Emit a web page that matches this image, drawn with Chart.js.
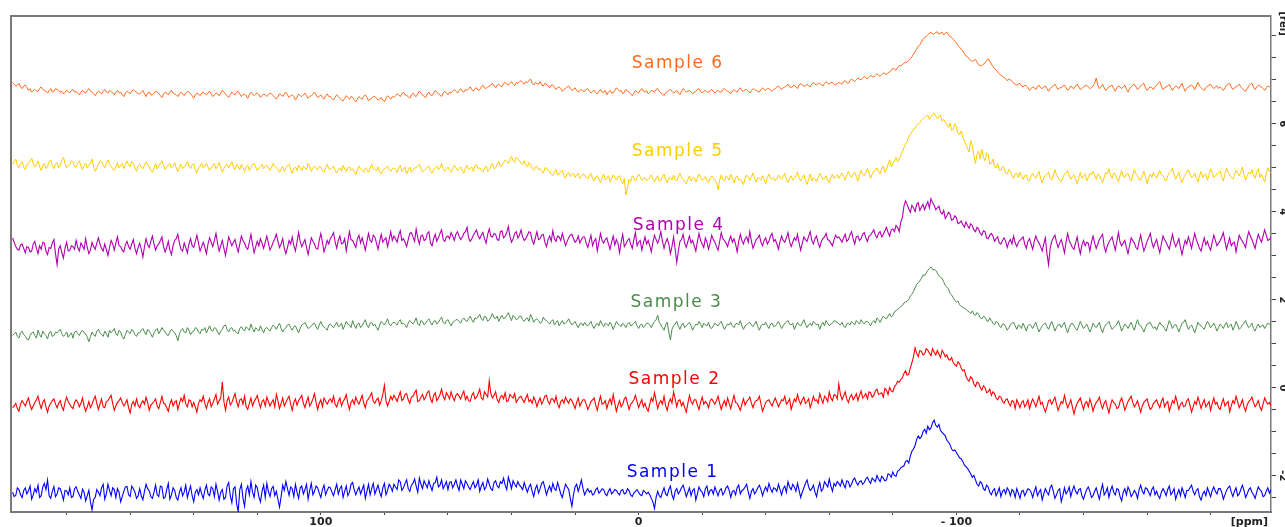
<!DOCTYPE html>
<html>
<head>
<meta charset="utf-8">
<title>Stacked spectra</title>
<script src="https://cdn.jsdelivr.net/npm/chart.js@4.4.1/dist/chart.umd.min.js"></script>
<style>
  html, body { margin: 0; padding: 0; background: #fff; }
  #spectra { display: block; }
</style>
</head>
<body>
<canvas id="spectra" width="1285" height="527"></canvas>
<script>
// sampling grid of the traces: 197 ppm down to -199 ppm, 0.5 ppm apart
const ppmStart = 197;
const ppmStep = 0.5;

const sampleNames = ['Sample 1', 'Sample 2', 'Sample 3', 'Sample 4', 'Sample 5', 'Sample 6'];
const sampleColors = ['#0000ff', '#ff0000', '#4a8c4a', '#b000b0', '#ffcc00', '#ff6a1a'];
// vertical stacking of each trace (rel units)
const stackOffsets = [-2.39, -0.39, 1.39, 3.25, 4.80, 6.82];
// where the sample names sit (ppm, rel)
const labelPpm = [-10.7, -11.3, -11.9, -12.6, -12.3, -12.3];
const labelLevels = [-1.93, 0.19, 1.94, 3.69, 5.37, 7.37];

const ppmTickValues = [180, 160, 140, 120, 100, 80, 60, 40, 20, 0, -20, -40, -60, -80, -100, -120, -140, -160, -180];
const ppmLabelValues = [100, 0, -100];
const ppmLabelTexts = ['100', '0', '- 100'];
const relTickValues = [-2.5, -2, -1.5, -1, -0.5, 0, 0.5, 1, 1.5, 2, 2.5, 3, 3.5, 4, 4.5, 5, 5.5, 6, 6.5, 7, 7.5, 8];
const relLabelValues = [-2, 0, 2, 4, 6, 8];
const relLabelTexts = ['-2', '0', '2', '4', '6', '[rel]'];

// intensities in 1/100 rel, relative to each trace's own baseline; one row = 20 ppm
const sample1 = [
  2,-8,-5,12,8,-4,-10,6,12,-2,5,16,-14,-4,10,2,18,-10,-6,14,22,8,30,-6,-12,4,15,-8,-2,12,10,-2,-16,6,5,-4,12,-10,-8,10,
  14,4,-4,-12,9,2,-18,-6,6,-20,-38,-14,-10,8,2,-6,12,20,-14,-2,20,6,-6,12,8,-10,10,2,-20,-8,4,14,15,-4,-8,16,10,2,-12,-6,
  10,-6,-15,4,20,10,5,-8,-12,2,18,-4,-8,16,14,-12,-10,8,22,-14,-4,12,6,-10,-16,2,12,-6,2,18,-10,4,16,-6,-20,2,8,-4,12,-2,
  -12,6,18,-2,-6,14,10,-8,20,4,-16,2,8,-14,-10,16,24,-6,-22,10,14,-24,-42,8,20,-12,-30,6,16,-4,26,2,-10,18,12,-8,-20,4,18,-10,
  22,4,-8,10,15,-6,4,-14,-32,-8,18,6,26,10,-5,14,10,-8,20,2,-12,12,16,-2,8,20,-14,6,22,-4,4,16,12,0,-10,8,18,-4,6,14,
  12,2,-6,8,20,-2,10,16,-10,4,16,-6,2,20,24,8,-4,6,14,-2,8,18,-12,4,20,-4,10,22,-2,8,18,2,-8,12,22,-4,6,20,14,4,
  20,14,8,30,26,6,12,22,30,10,4,18,22,32,16,2,34,20,10,28,20,12,28,16,6,22,24,36,14,18,30,10,18,26,8,24,26,12,20,30,
  16,6,30,20,10,28,22,14,8,18,26,12,18,30,4,16,24,8,14,32,20,10,6,24,28,16,12,26,22,34,18,8,36,24,10,28,20,14,26,18,
  14,8,24,12,2,14,20,4,-8,10,18,0,10,22,26,12,-4,8,16,4,22,10,6,24,12,-2,-10,6,20,14,8,-12,-30,-4,14,20,4,16,30,10,
  -4,4,10,2,6,-4,-2,8,12,0,4,10,8,-2,-6,4,10,-2,2,8,6,0,-4,6,8,-2,0,10,5,-4,-8,0,4,8,2,-4,-6,6,3,-2,
  2,-4,-12,-20,-35,-10,4,-6,-10,2,12,-2,-6,8,16,-4,-14,4,10,-2,4,12,18,6,-8,2,12,-6,6,10,-16,-2,14,6,2,-8,10,16,-4,6,
  8,-2,14,4,-6,6,10,-4,2,12,16,6,-10,4,6,-4,12,18,-2,6,8,14,20,2,-12,4,10,-2,4,12,18,8,-6,6,14,4,22,10,2,12,
  10,4,20,8,-4,10,16,2,26,14,8,20,14,4,22,6,-10,2,12,22,30,14,6,10,18,2,-8,12,24,4,10,26,20,14,32,16,4,22,16,26,
  22,16,30,20,12,28,26,14,20,30,34,24,18,26,28,20,24,32,36,28,22,34,30,26,40,32,26,38,34,28,30,44,42,36,48,40,38,50,52,58,
  60,62,72,74,68,84,95,100,108,122,130,124,128,140,145,136,152,144,148,160,166,154,150,156,142,138,134,130,120,116,110,100,96,98,92,86,80,78,72,64,
  60,56,50,44,36,40,30,20,16,26,22,10,6,18,14,2,-4,6,10,-6,2,12,-8,4,8,-2,12,6,-6,8,4,-10,10,0,-12,4,6,-6,2,10,
  8,2,-10,4,14,-6,2,8,-16,-2,10,2,-4,12,18,4,-12,-4,6,10,-20,-6,12,-2,4,14,-8,6,16,4,-2,8,10,-6,-14,-2,8,14,4,-10,
  -6,4,12,-2,-14,6,20,-4,2,12,-10,6,16,2,-4,10,8,-8,-18,2,10,-4,14,6,-8,-2,6,0,-12,8,18,4,-2,12,10,2,-6,8,14,-4,
  4,-6,-12,2,10,4,-6,8,16,-4,2,10,-14,-2,8,-6,12,2,-10,6,6,12,18,4,-4,6,10,-8,-16,-2,4,-6,12,2,-8,6,14,4,-2,10,
  10,2,-14,-4,6,12,16,2,-8,4,12,-6,-2,8,18,6,-10,-2,8,12,2,-4,-12,2,14,8,4,-8,-6,4,12,0,8
];
const sample2 = [
  -6,-2,4,-8,-14,2,10,4,-2,8,16,0,-10,-2,6,12,20,4,-8,6,12,-4,-16,-2,4,10,14,2,-6,4,10,-4,-12,6,18,8,2,-4,-8,6,
  12,6,-4,4,16,-2,-14,-4,8,-6,2,12,20,4,-10,2,14,-4,-6,8,10,16,22,4,-12,-2,6,10,16,6,-2,4,12,-6,-18,2,8,-2,14,0,
  -6,4,10,2,18,6,-12,0,4,8,14,-2,-8,6,20,4,2,-6,-14,2,12,-2,6,10,-10,4,16,8,22,2,-4,12,10,-4,6,-4,-16,4,12,8,
  20,4,-8,6,14,-4,4,14,24,2,10,16,52,8,-12,10,18,0,6,16,26,8,-4,12,14,2,20,-4,-10,4,16,-2,8,14,22,6,-6,8,12,-2,
  18,8,-2,6,12,-4,24,10,-8,4,16,-2,6,14,20,2,-12,6,14,0,10,16,22,4,-6,8,18,-2,4,14,26,6,-10,4,12,-4,16,8,2,10,
  14,6,20,2,-4,8,16,-2,8,14,24,4,-10,6,12,2,18,8,2,12,22,4,-6,10,14,20,28,8,4,12,16,0,10,24,45,10,-2,8,20,12,
  22,16,8,20,30,10,14,24,26,12,4,18,20,28,34,8,10,18,24,12,18,28,32,14,6,22,28,10,16,24,36,20,12,28,22,14,30,18,10,22,
  26,20,14,24,32,12,20,10,8,22,28,14,18,26,36,16,12,30,24,18,55,26,16,22,30,12,6,18,22,14,28,8,10,24,20,16,26,6,12,18,
  20,12,6,16,24,8,12,4,18,10,-4,8,16,2,10,20,22,8,2,14,14,6,20,2,-6,8,12,4,18,10,4,14,10,2,-8,6,16,-2,6,12,
  12,2,-10,-2,8,12,16,0,-12,6,20,2,4,10,-8,6,14,2,24,4,-14,0,10,-4,2,14,18,4,-10,2,6,12,22,8,-6,4,12,-4,4,-8,
  -14,2,16,8,28,10,-8,4,10,2,20,-2,-12,6,14,4,30,14,-4,10,12,-2,6,-6,-16,4,22,8,2,12,12,0,-10,6,18,2,8,4,-6,10,
  14,8,2,10,20,4,-10,2,10,-2,16,4,-8,8,22,6,4,-4,-12,2,14,0,8,12,18,4,-6,6,10,12,20,2,-14,-4,6,10,12,4,-2,8,
  16,6,-4,4,12,10,20,2,6,14,-10,2,14,8,24,10,2,12,18,4,8,14,-6,6,20,10,12,4,26,14,4,20,16,8,30,16,10,24,22,14,
  48,24,12,20,30,14,6,18,24,12,18,26,10,22,32,16,20,26,14,30,28,18,22,32,36,24,26,28,18,38,34,24,40,32,30,42,46,54,52,58,
  62,72,78,68,70,84,96,110,130,118,110,124,122,114,116,128,125,118,112,128,120,114,124,116,108,124,118,110,114,104,102,108,96,92,88,98,94,84,78,80,
  66,58,54,64,60,48,42,52,50,40,34,44,40,28,30,36,22,30,26,16,12,20,18,8,4,12,14,4,-2,10,8,-8,12,4,-6,6,10,-4,2,12,
  -8,4,14,6,-4,8,20,2,6,-6,-16,-4,10,12,2,10,18,2,-12,-2,8,4,22,6,-6,2,12,-4,-20,-6,4,10,16,2,-10,4,8,-4,14,2,
  -14,-2,6,10,18,2,-8,4,10,-6,-18,0,12,6,2,-8,-6,8,16,4,-12,-2,8,14,20,6,-4,2,10,-4,-16,-2,6,10,14,0,-10,-6,4,8,
  12,2,-6,8,16,-4,4,8,-14,-2,10,4,20,6,-10,2,6,-4,-2,10,14,0,-16,-4,8,2,18,6,-8,4,12,-4,2,8,-12,4,16,2,6,-6,
  -10,4,14,-2,4,8,-16,-2,10,4,20,8,-6,2,12,-4,-14,0,8,12,18,6,-4,2,10,-4,-12,2,16,8,2,6,-2
];
const sample3 = [
  -20,-16,-12,-22,-26,-14,-10,-18,-22,-28,-30,-20,-14,-12,-20,-26,-8,-18,-24,-10,-16,-20,-28,-14,-10,-22,-20,-12,-14,-10,-6,-16,-22,-18,-12,-24,-18,-14,-26,-12,
  -10,-16,-20,-12,-8,-14,-16,-24,-34,-22,-12,-18,-22,-10,-6,-14,-18,-22,-10,-16,-24,-8,-14,-10,-4,-16,-20,-8,-12,-22,-28,-18,-8,-12,-16,-6,-10,-18,-22,-14,
  -14,-8,-4,-12,-18,-6,-10,-16,-24,-14,-8,-4,-16,-10,-2,-8,-12,-18,-20,-12,-6,-10,-14,-20,-32,-16,-8,-4,-12,-14,-2,-8,-18,-12,-10,-2,-4,-12,-16,-6,
  -8,-2,-14,-6,2,-8,-10,-2,-4,-12,-18,-10,-6,2,4,-6,-12,-4,-2,-10,-8,-14,-16,-4,0,-6,-10,0,-4,-8,6,-4,-12,-2,-6,-10,2,-6,-14,-4,
  -2,-6,-10,-2,4,0,-6,2,8,-4,-12,-6,-2,4,6,-2,-8,0,2,-6,-14,-4,4,6,10,2,-4,-2,2,6,8,0,-6,4,12,2,0,-4,-8,4,
  6,2,-2,4,10,0,2,8,-6,2,12,6,4,-2,14,4,-4,6,8,-2,2,10,16,4,-2,8,10,2,6,-2,-8,4,12,8,4,10,18,6,2,8,
  10,8,4,12,16,6,8,4,-2,8,14,10,6,12,20,6,2,14,12,4,8,14,18,10,4,12,14,6,10,16,22,10,6,14,16,8,2,10,12,16,
  16,12,8,16,20,14,12,18,24,16,10,20,18,22,28,18,14,24,22,12,16,22,30,20,18,24,12,20,26,18,20,26,32,22,14,26,22,16,18,24,
  24,16,12,18,20,12,28,20,10,16,18,14,8,10,22,16,14,10,6,12,16,4,10,14,2,8,14,6,8,12,18,10,4,8,12,4,-2,6,8,2,
  10,4,2,6,12,2,-4,4,8,2,14,6,0,8,6,2,10,4,-6,2,12,6,4,0,8,4,-2,6,10,2,4,8,12,2,-4,4,6,-2,2,8,
  8,4,-2,6,12,16,26,10,4,-2,-8,4,10,-12,-30,-6,2,6,12,2,-6,4,8,-2,2,6,10,2,-8,0,6,4,12,6,-2,8,4,2,10,-2,
  -4,2,8,4,2,8,12,2,-6,0,6,4,10,2,-2,6,8,4,14,2,-6,2,4,8,10,4,0,6,12,0,-8,2,6,4,10,2,-4,6,8,0,
  2,6,12,4,-4,2,8,10,14,6,4,8,-6,2,10,4,2,8,16,6,-2,4,8,2,12,8,4,6,-6,4,10,2,14,8,2,6,8,14,12,10,
  6,4,10,2,-2,6,8,4,12,8,4,14,10,6,16,10,6,12,12,8,2,10,14,8,20,16,10,18,24,20,18,24,30,22,26,34,36,40,42,46,
  48,54,56,58,62,70,74,80,88,96,100,104,110,118,116,122,128,132,136,130,130,128,122,116,112,110,102,94,90,86,76,72,66,60,56,58,50,46,44,42,
  40,36,34,30,36,28,26,32,28,20,18,24,22,14,12,20,14,8,4,12,10,2,-2,6,6,0,-8,-2,4,8,10,2,-6,4,2,-4,8,0,-10,2,
  6,2,-4,4,10,-2,-12,-4,2,6,8,0,-6,4,12,2,-10,-2,4,6,-2,4,10,-4,-14,-2,6,8,2,-4,-8,2,12,4,-4,0,6,-2,-12,-4,
  8,2,-2,4,10,-4,-14,-2,4,8,12,2,-6,-2,2,6,14,2,-10,-2,6,2,-4,4,10,0,-8,6,16,4,2,-4,-12,-2,6,8,10,2,-4,0,
  -8,2,10,4,2,-4,-10,2,14,6,-4,2,6,-2,-12,-2,8,10,16,4,-6,0,4,-4,-14,-2,10,4,2,-2,-6,4,12,6,-2,2,8,0,-10,-2,
  6,2,-4,4,10,-2,2,6,-8,0,12,4,-6,-2,4,8,14,4,-2,2,8,-4,-10,0,6,-2,2,4,-4,2,8,6,4
];
const sample4 = [
  16,6,-4,-10,-12,0,2,-8,-18,-4,-6,-16,-14,2,8,-8,-20,-2,-10,6,4,-14,-22,-6,-8,4,12,-20,-45,-10,-2,-18,-30,-8,6,-14,-12,-2,-4,-10,
  10,-6,-14,4,-2,-10,14,-6,-20,-12,6,-4,-10,4,16,2,-8,-14,2,-10,-24,-6,10,2,-12,4,18,-2,-4,-12,-16,0,8,-4,-10,2,12,-8,-20,-6,
  4,-10,-28,-4,14,0,-6,8,20,2,-12,-2,2,10,18,-4,-16,-6,8,-12,-22,-2,10,14,24,4,-10,-14,4,-6,-18,2,14,-2,-6,8,22,4,-14,-4,
  6,-6,-20,2,16,6,-4,10,26,4,-14,-2,10,-8,-24,-4,18,8,-2,6,12,-4,-16,2,20,10,4,-6,-10,6,24,2,-18,-4,8,-2,14,4,-8,6,
  20,4,-12,-4,6,14,24,8,-6,2,14,-8,-20,-6,10,2,18,-2,-14,6,28,8,-4,4,12,-6,-22,-2,16,8,2,-8,-10,10,26,6,-16,-4,10,2,
  14,20,28,6,-8,10,20,2,4,14,-14,8,30,12,10,2,-6,14,22,4,16,2,-12,8,26,10,6,22,18,4,-10,8,24,6,12,16,-4,12,30,10,
  20,14,6,22,32,10,14,6,-4,12,26,28,18,8,36,16,2,20,22,10,12,26,30,4,-2,14,24,8,16,26,34,12,8,18,20,14,28,20,10,24,
  30,20,12,18,26,30,40,16,8,14,22,28,34,20,14,22,28,14,4,24,36,20,18,26,24,12,10,30,32,16,20,28,42,20,6,14,26,30,16,22,
  34,18,10,14,22,30,28,10,2,16,30,12,14,22,24,6,-4,12,20,8,32,14,8,20,18,10,26,12,-2,8,16,22,24,14,6,10,20,4,12,18,
  18,4,-6,8,22,-2,8,14,-14,6,26,10,4,12,16,2,-10,6,20,0,12,4,-18,6,24,-4,2,10,14,2,-8,12,28,-2,6,10,-12,4,18,2,
  10,-2,-16,6,22,12,4,14,30,8,-8,6,14,2,-20,-4,18,-10,-40,-14,8,12,24,4,-6,8,20,4,10,-2,-14,8,26,10,2,-6,16,6,-10,4,
  22,12,6,-4,-12,8,28,14,10,4,-4,10,20,6,14,2,-16,8,24,10,2,14,18,6,30,8,-8,2,12,16,22,6,-2,10,16,2,8,20,26,8,
  12,2,-10,8,20,10,6,16,28,8,-4,6,16,10,24,4,-12,4,18,12,8,20,30,10,2,14,20,4,-6,8,14,18,26,12,10,4,-2,12,22,16,
  18,12,6,16,24,8,12,22,30,14,2,18,20,10,14,24,28,16,8,20,22,28,34,22,16,26,30,18,24,32,40,28,20,34,36,30,44,40,30,52,
  62,88,100,92,82,74,90,84,76,92,96,78,86,92,80,90,98,84,105,96,90,80,84,88,74,70,78,60,66,74,70,56,58,66,62,48,50,54,46,40,
  52,44,38,48,44,34,30,40,36,26,22,32,30,16,14,22,26,20,8,14,18,4,2,10,16,8,-6,6,12,2,20,4,-4,6,10,14,18,2,-8,8,
  14,2,-10,8,20,10,4,-4,-14,2,16,-20,-45,-8,8,16,22,6,-6,4,12,-2,-18,6,26,10,2,-6,-10,4,18,-4,-20,0,10,-2,6,4,-14,6,
  20,4,-8,2,12,18,24,-4,-16,-2,6,12,18,2,-12,8,28,6,-2,4,10,-6,-20,-2,16,10,4,-6,-10,8,22,2,-14,-4,8,16,26,6,-6,4,
  12,-4,-18,2,20,12,6,-2,-10,8,24,6,-4,4,14,-6,-22,-4,10,2,18,6,-8,10,26,12,2,-8,-14,2,16,0,8,-4,-12,6,22,10,-2,4,
  10,18,28,8,-10,4,16,-2,4,6,-16,4,22,14,8,2,-6,16,30,20,12,2,-8,10,24,14,6,20,34,22,10,12,18
];
const sample5 = [
  28,34,40,26,20,30,34,22,16,28,30,36,42,30,22,28,36,22,14,26,30,18,24,34,38,26,18,28,32,20,26,38,44,30,20,24,28,36,34,22,
  22,30,36,24,16,26,30,20,26,32,40,22,12,20,28,36,34,26,20,30,38,28,24,18,14,22,32,20,26,30,18,28,36,26,22,34,30,20,12,24,
  28,22,18,26,34,28,22,14,10,20,30,18,24,30,36,26,16,22,26,30,20,24,32,20,12,22,28,18,22,28,34,24,18,26,30,16,8,20,24,30,
  20,24,30,22,14,20,26,30,18,24,32,20,10,18,24,28,20,26,34,22,16,28,22,16,28,20,12,22,26,14,20,28,30,22,14,20,24,28,18,24,
  26,20,14,22,30,24,20,16,10,18,24,12,18,26,28,16,8,18,22,14,26,20,14,24,20,16,30,22,12,20,24,18,16,24,22,14,10,20,28,18,
  16,20,24,14,8,16,20,12,26,18,12,20,22,14,18,10,4,16,24,18,14,10,20,16,10,20,28,18,16,14,22,12,6,14,18,20,24,16,12,18,
  20,16,10,20,26,12,16,22,6,14,22,10,14,20,20,24,28,18,10,14,18,22,24,12,8,16,20,24,16,20,30,18,12,16,22,14,10,18,26,20,
  14,18,22,14,8,20,26,16,18,22,12,24,28,18,20,14,10,20,24,12,16,24,30,18,20,28,34,22,26,32,38,34,30,40,46,36,32,44,40,36,
  30,28,36,26,22,32,28,18,14,22,24,16,18,12,8,20,20,14,12,6,2,10,16,4,6,12,14,2,-4,6,10,0,4,8,-2,4,8,-4,0,6,
  4,-2,-6,4,8,-4,-10,0,2,-6,-14,-2,6,-8,-4,2,-12,-6,4,-2,-8,0,2,-10,-16,-4,-42,-26,-6,-12,2,-4,-10,-2,6,0,-8,-4,-2,-10,
  -6,-2,4,-6,-12,-4,2,-10,-8,0,6,-6,-14,-4,-2,-8,4,-6,-10,0,8,-2,-6,-12,-16,-6,2,-10,-4,-2,-12,-4,6,-2,-8,-6,0,-8,-14,-4,
  2,-4,-8,-14,-30,-8,4,-6,-10,2,-2,-8,6,-4,-14,-2,2,-8,-6,-10,-18,-4,4,-2,-8,0,8,-4,-12,-2,-4,-8,2,-6,-16,-2,6,-4,-6,-2,
  -10,-4,4,-2,-6,0,8,-6,-14,-4,2,-8,-4,2,10,-2,-10,-4,4,-8,-18,-6,6,-10,-2,-6,-12,-2,8,0,-6,-4,2,-8,-14,-2,6,-4,0,4,
  -4,2,8,0,-8,4,12,2,-2,6,10,0,-10,4,14,6,2,10,18,8,-4,6,12,14,20,12,6,18,24,10,16,28,38,22,30,36,44,34,40,48,
  56,66,74,80,90,96,102,108,110,116,120,122,128,132,134,138,140,130,136,142,145,138,132,136,140,126,130,124,118,112,122,104,108,120,114,98,96,104,90,80,
  74,64,56,82,70,48,30,52,58,40,62,44,36,54,50,28,30,40,22,20,30,14,14,24,20,8,6,16,12,2,-4,6,8,-2,10,0,-6,2,4,-8,
  -10,2,8,0,-4,4,12,-4,-14,-2,2,6,10,-4,-8,4,16,4,-2,-8,-12,-2,6,8,14,2,-6,0,4,-6,-16,-2,10,-4,2,6,-10,-2,8,4,
  12,2,-6,6,4,-6,-14,-2,10,6,18,4,-4,8,6,-4,-12,2,14,0,-2,6,8,-4,-10,4,16,6,2,-6,-8,2,12,0,-16,-4,6,-2,10,2,
  -4,6,14,4,2,-6,-10,2,8,12,20,4,-6,2,10,-4,-14,-2,4,10,16,6,-2,2,8,-4,-12,2,12,-2,4,6,-8,4,18,8,-2,2,6,10,
  12,0,-10,6,20,10,4,-2,-6,4,14,8,2,10,22,4,-8,2,10,6,16,2,-4,10,18,-2,6,-4,-12,6,20,12,8
];
const sample6 = [
  12,8,4,6,10,2,-2,4,6,0,-6,-2,-10,-6,-4,-8,-8,-2,2,-4,-6,-8,-12,-6,-2,-10,-8,-2,-4,-6,-10,-8,-14,-10,-6,-8,-12,-6,-4,-10,
  -8,-12,-16,-10,-6,-10,-12,-6,-2,-8,-10,-14,-18,-12,-8,-10,-14,-8,-4,-10,-12,-6,-8,-12,-16,-10,-6,-12,-10,-16,-20,-12,-8,-10,-14,-8,-4,-8,-10,-14,
  -14,-10,-6,-14,-20,-12,-10,-16,-16,-12,-8,-10,-12,-18,-22,-14,-10,-12,-16,-10,-6,-12,-14,-16,-20,-14,-10,-14,-18,-12,-8,-10,-14,-18,-24,-16,-12,-14,-18,-12,
  -10,-14,-16,-12,-8,-14,-20,-16,-12,-14,-18,-12,-6,-10,-14,-18,-22,-16,-10,-14,-16,-10,-8,-14,-20,-16,-14,-18,-24,-16,-10,-14,-18,-14,-12,-16,-22,-18,-14,-16,
  -20,-16,-12,-14,-18,-22,-26,-20,-14,-16,-20,-14,-10,-16,-22,-18,-16,-20,-28,-22,-14,-18,-20,-16,-12,-18,-24,-20,-18,-14,-10,-16,-22,-20,-16,-22,-26,-18,-14,-20,
  -20,-24,-28,-22,-16,-20,-24,-28,-30,-24,-18,-22,-26,-20,-22,-28,-32,-26,-20,-24,-26,-20,-16,-22,-30,-26,-24,-20,-20,-24,-28,-26,-22,-28,-32,-24,-18,-22,-26,-20,
  -22,-18,-14,-16,-20,-14,-10,-16,-18,-20,-24,-16,-12,-18,-20,-14,-8,-12,-16,-20,-22,-14,-10,-16,-18,-12,-6,-10,-14,-16,-20,-12,-8,-12,-16,-10,-12,-8,-4,-8,
  -12,-6,-2,-8,-10,-4,-6,-2,2,-4,-8,-2,0,-6,-4,2,6,0,-2,2,4,6,10,4,0,6,8,4,2,10,12,8,6,10,14,8,4,12,10,14,
  16,12,8,14,12,16,20,10,6,12,10,8,14,6,4,10,8,4,0,6,6,2,-4,0,2,-2,-8,-4,-2,2,4,-2,-6,-4,0,-6,-10,-6,-4,-8,
  -8,-4,-2,-8,-12,-8,-6,-10,-14,-8,-4,-10,-10,-6,-16,-10,-6,-12,-12,-6,0,-4,-8,-6,-14,-10,-4,-8,-10,-14,-18,-12,-6,-10,-12,-6,-2,-8,-10,-6,
  -14,-10,-6,-8,-10,-4,-2,-8,-12,-14,-18,-12,-8,-6,-4,-8,-12,-10,-6,-12,-16,-8,-2,-6,-10,-8,-6,-10,-14,-10,-8,-4,-2,-8,-12,-8,-6,-10,-10,-6,
  -4,-8,-12,-8,-6,-10,-10,-4,-2,-6,-8,-10,-14,-8,-4,-8,-10,-4,0,-6,-8,-4,-4,-8,-12,-6,-2,-4,-6,-8,-10,-4,0,-4,-6,-2,-2,-6,-8,-4,
  -2,2,4,0,-4,0,2,4,8,2,0,4,6,2,-2,6,10,6,4,4,8,4,2,8,12,8,6,10,10,6,4,10,14,10,8,12,12,8,6,10,
  12,10,8,14,16,12,10,16,20,16,14,18,22,20,18,22,26,22,20,24,28,26,24,28,32,28,26,30,34,32,30,34,36,40,44,42,40,46,50,50,
  52,56,58,58,62,66,70,76,82,88,94,98,104,110,114,116,120,124,126,122,122,126,127,122,124,126,120,124,126,120,116,114,110,106,102,96,92,88,84,78,
  72,70,66,62,60,62,64,58,52,50,50,54,56,62,66,60,54,48,44,40,36,32,28,26,24,20,16,20,18,14,10,8,6,8,10,4,2,6,4,0,
  -6,-2,2,0,-4,2,6,0,-2,2,4,-2,-8,-2,2,4,8,2,-4,0,0,4,6,0,-6,-2,4,0,-2,4,8,2,-4,-2,2,4,6,2,-2,0,
  4,10,22,6,-2,2,8,0,-6,-2,2,4,6,-2,-8,0,4,2,-2,2,6,-4,-10,-2,2,6,8,2,-4,0,4,8,10,0,-6,-2,2,0,-4,2,
  6,10,14,4,-4,0,2,4,8,0,-6,0,4,2,-2,4,10,0,-8,-2,2,4,6,2,-4,4,12,4,0,-4,-6,0,4,6,8,2,-2,2,4,-2,
  2,-2,-6,0,6,8,10,2,-4,0,2,4,8,2,-2,-6,-8,-2,4,8,10,2,-4,2,6,4,2,-2,-6,0,4,2,0
];

const sampleData = [sample1, sample2, sample3, sample4, sample5, sample6];
const lineWidths = [1.1, 1.1, 1, 1.1, 1, 1];

function buildPoints(values, offset) {
  return values.map((v, i) => ({ x: ppmStart - i * ppmStep, y: v / 100 + offset }));
}

function ppmTickLabel(value) {
  const idx = ppmLabelValues.indexOf(value);
  return idx === -1 ? '' : ppmLabelTexts[idx];
}

// frame lines, rotated rel labels, [ppm] and the sample names
const annotations = {
  id: 'annotations',
  afterDraw(chart) {
    const { ctx, chartArea, scales } = chart;
    ctx.save();

    ctx.strokeStyle = '#7a7a7a';
    ctx.lineWidth = 2;
    ctx.beginPath();
    ctx.moveTo(chartArea.left, chartArea.bottom);
    ctx.lineTo(chartArea.left, chartArea.top);
    ctx.lineTo(chartArea.right, chartArea.top);
    ctx.stroke();

    ctx.fillStyle = '#222';
    ctx.font = 'bold 10px "DejaVu Sans"';
    ctx.textBaseline = 'middle';
    relLabelValues.forEach((v, i) => {
      const y = scales.y.getPixelForValue(v);
      ctx.save();
      ctx.translate(chartArea.right + 12, y);
      ctx.rotate(Math.PI / 2);
      ctx.textAlign = relLabelTexts[i] === '[rel]' ? 'right' : 'center';
      ctx.fillText(relLabelTexts[i], 0, 0);
      ctx.restore();
    });

    ctx.font = 'bold 11px "DejaVu Sans"';
    ctx.textAlign = 'right';
    ctx.fillText('[ppm]', chartArea.right - 3, chartArea.bottom + 10);

    ctx.font = '17px "DejaVu Sans"';
    ctx.letterSpacing = '1.5px';
    ctx.textAlign = 'center';
    sampleNames.forEach((name, i) => {
      ctx.fillStyle = sampleColors[i];
      ctx.fillText(name, scales.x.getPixelForValue(labelPpm[i]), scales.y.getPixelForValue(labelLevels[i]));
    });
    ctx.restore();
  }
};

new Chart(document.getElementById('spectra'), {
  type: 'line',
  data: {
    datasets: sampleNames.map((name, i) => ({
      label: name,
      data: buildPoints(sampleData[i], stackOffsets[i]),
      borderColor: sampleColors[i],
      borderWidth: lineWidths[i],
      pointRadius: 0,
      tension: 0,
      fill: false
    }))
  },
  options: {
    responsive: false,
    animation: false,
    events: [],
    layout: { padding: { left: 11, top: 16, right: 0, bottom: 0 } },
    plugins: {
      legend: { display: false },
      tooltip: { enabled: false }
    },
    scales: {
      x: {
        type: 'linear',
        reverse: true,
        min: -199,
        max: 197.5,
        afterBuildTicks: (scale) => { scale.ticks = ppmTickValues.map((v) => ({ value: v })); },
        afterFit: (scale) => { scale.height = 15; },
        grid: { drawOnChartArea: false, drawTicks: true, tickLength: 3, tickColor: '#444', tickWidth: 1 },
        border: { display: true, color: '#7a7a7a', width: 2 },
        ticks: {
          autoSkip: false,
          maxRotation: 0,
          padding: 1,
          color: '#222',
          font: { family: 'DejaVu Sans', size: 11, weight: 'bold' },
          callback: (value) => ppmTickLabel(value)
        }
      },
      y: {
        type: 'linear',
        position: 'right',
        min: -2.82,
        max: 8.45,
        afterBuildTicks: (scale) => { scale.ticks = relTickValues.map((v) => ({ value: v })); },
        afterFit: (scale) => { scale.width = 14; },
        grid: { drawOnChartArea: false, drawTicks: true, tickLength: 5, tickColor: '#444', tickWidth: 1 },
        border: { display: true, color: '#7a7a7a', width: 1.5 },
        ticks: { display: false }
      }
    }
  },
  plugins: [annotations]
});
</script>
</body>
</html>
